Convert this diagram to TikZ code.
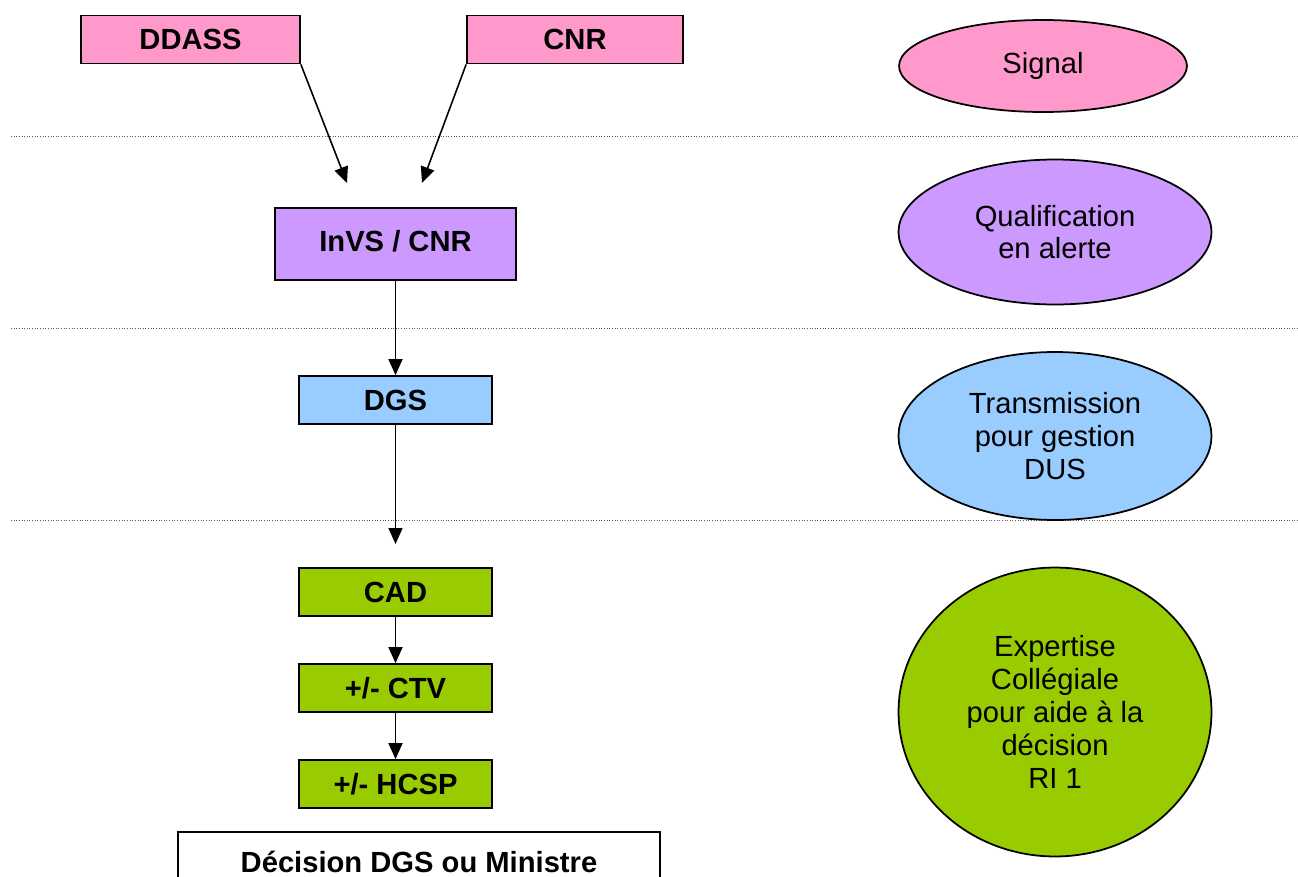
\documentclass[tikz,border=0pt]{standalone}
\usepackage{fontspec}
\setmainfont{Liberation Sans}
\usetikzlibrary{shapes.geometric,arrows.meta}
\definecolor{r255g153b204}{RGB}{255,153,204}
\definecolor{r204g153b255}{RGB}{204,153,255}
\definecolor{r153g204b255}{RGB}{153,204,255}
\definecolor{r153g204b0}{RGB}{153,204,0}
\tikzset{
  box/.style={draw, line width=1pt, minimum height=0.96cm, inner sep=0pt,
    font=\fontsize{16.6}{18.7}\selectfont\bfseries},
  bubble/.style={ellipse, draw, line width=1pt, inner sep=0pt, align=center,
    font=\fontsize{16.6}{18.7}\selectfont},
  arr/.style={line width=0.9pt, -{Triangle[length=0.32cm, width=0.28cm]}},
  sep/.style={draw=black!65, line width=0.5pt, densely dotted}
}
\begin{document}
\begin{tikzpicture}[x=0.02cm, y=-0.02cm]
% \clip (0,0) rectangle (1298,876);
\useasboundingbox (0,0) rectangle (1298,876);

% Drawing separators
\draw [sep] (11,136) -- (1298,136);%
\draw [sep] (11,328) -- (1298,328);%
\draw [sep] (11,520) -- (1298,520);%

% Signal
\node [box, fill=r255g153b204, minimum width=4.38cm] (ddass) at (190.5,39.5) {DDASS};%
\node [box, fill=r255g153b204, minimum width=4.32cm] (cnr) at (575,39.5) {CNR};%

% Qualification
\node [box, fill=r204g153b255, minimum width=4.82cm, minimum height=1.44cm] (invs) at (395.5,244) {\raisebox{3pt}{InVS / CNR}};%

% Transmission
\node [box, fill=r153g204b255, minimum width=3.86cm] (dgs) at (395.5,400) {\raisebox{-2pt}{DGS}};%

% Expertise
\node [box, fill=r153g204b0, minimum width=3.86cm] (cad) at (395.5,592) {\raisebox{-2pt}{CAD}};%
\node [box, fill=r153g204b0, minimum width=3.86cm] (ctv) at (395.5,688) {\raisebox{-2pt}{+/- CTV}};%
\node [box, fill=r153g204b0, minimum width=3.86cm] (hcsp) at (395.5,784) {\raisebox{-2pt}{+/- HCSP}};%

% Decision
\node [box, fill=white, minimum width=9.64cm, minimum height=1.2cm] (decision) at (419,862) {Décision DGS ou Ministre};%

% Free ends of the arrows
\coordinate (endddass) at (347,183);
\coordinate (endcnr) at (422,183);
\coordinate (enddgs) at (395.5,544);

% Drawing arrows
\draw [arr] (ddass.south east) -- (endddass);%
\draw [arr] (cnr.south west) -- (endcnr);%
\draw [arr] (invs.south) -- (dgs.north);%
\draw [arr] (dgs.south) -- (enddgs);%
\draw [arr] (cad.south) -- (ctv.north);%
\draw [arr] (ctv.south) -- (hcsp.north);%

% Ellipses on the right
\node [bubble, fill=r255g153b204, minimum width=5.76cm, minimum height=1.84cm] (signal) at (1043,66) {\raisebox{-4pt}{Signal}};%
\node [bubble, fill=r204g153b255, minimum width=6.26cm, minimum height=2.9cm] (qualif) at (1055,232) {Qualification\\en alerte};%
\node [bubble, fill=r153g204b255, minimum width=6.26cm, minimum height=3.36cm] (transm) at (1055,436) {Transmission\\pour gestion\\DUS};%
\node [bubble, fill=r153g204b0, minimum width=6.26cm, minimum height=5.78cm] (expert) at (1055,712) {Expertise\\Collégiale\\pour aide à la\\décision\\RI 1};%
\end{tikzpicture}
\end{document}
